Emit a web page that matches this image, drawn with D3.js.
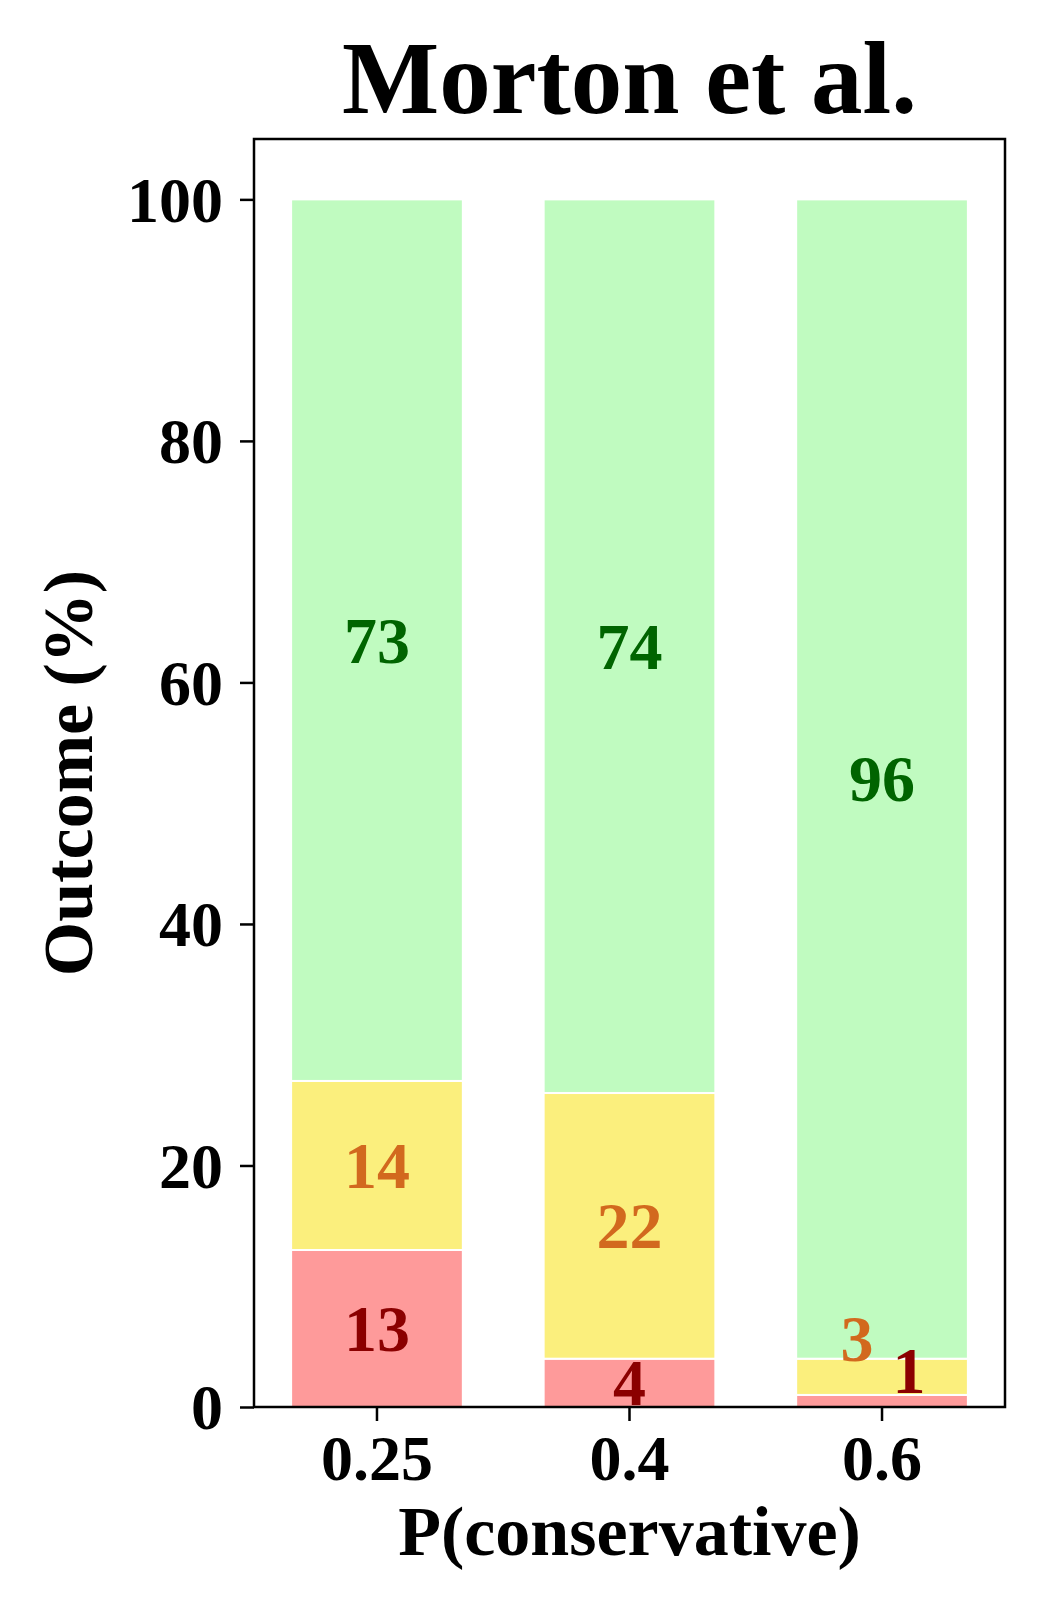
<!DOCTYPE html>
<html>
<head>
<meta charset="utf-8">
<script src="https://cdn.jsdelivr.net/npm/d3@7"></script>
<style>
	body { margin: 0; background: #fff; }
	text { font-family: "Liberation Serif", "Times New Roman", serif; font-weight: bold; }
</style>
</head>
<body>
<svg id="chart" width="1050" height="1620"></svg>
<script>
// data
var categories	= ["0.25", "0.4", "0.6"];
var seriesNames	= ["fail", "partial", "success"];
var failVals	= [13, 4, 1];
var partialVals	= [14, 22, 3];
var successVals	= [73, 74, 96];
var yTicks	= [0, 20, 40, 60, 80, 100];

var fills	= {fail: "#fe9a9a", partial: "#fbef7d", success: "#c0fbc0"},
	inks	= {fail: "#8b0000", partial: "#d2691e", success: "#006400"};

// note: "top" is reserved on window, so the box uses its own names
var svg	= d3.select("#chart"),
	boxL = 254, boxR = 1005, boxT = 139, boxB = 1407;

var rows = categories.map(function(c, i) {
	return {cat: c, fail: failVals[i], partial: partialVals[i], success: successVals[i]};
});
var stacked = d3.stack().keys(seriesNames)(rows);

var x = d3.scaleBand().domain(categories).range([boxL, boxR]).paddingInner(0.32).paddingOuter(0.147);
var y = d3.scaleLinear().domain([0, 105]).range([boxB, boxT]);

// bars
var layer = svg.append("g").selectAll("g").data(stacked).join("g")
	.attr("fill", function(d) { return fills[d.key]; });
layer.selectAll("rect").data(function(d) { return d; }).join("rect")
	.attr("x", function(d) { return x(d.data.cat); })
	.attr("width", x.bandwidth())
	.attr("y", function(d) { return y(d[1]); })
	.attr("height", function(d) { return y(d[0]) - y(d[1]); })
	.attr("stroke", "#fff").attr("stroke-width", 2);

// value labels, tiny segments get nudged aside so they don't collide
var nudge = {fail: [27, 2.5], partial: [-25, 3.2]};
stacked.forEach(function(s) {
	s.forEach(function(d) {
		var v = d[1] - d[0], dx = 0, dv = 0;
		if (v <= 3 && nudge[s.key]) { dx = nudge[s.key][0]; dv = nudge[s.key][1]; }
		svg.append("text")
			.attr("x", x(d.data.cat) + x.bandwidth() / 2 + dx)
			.attr("y", y((d[0] + d[1]) / 2 + dv))
			.attr("dy", "0.34em")
			.attr("text-anchor", "middle")
			.attr("font-size", 66)
			.attr("fill", inks[s.key])
			.text(v);
	});
});

// axes
var yAxis = svg.append("g").attr("transform", "translate(" + boxL + ",0)")
	.call(d3.axisLeft(y).tickValues(yTicks).tickSize(14).tickPadding(17));
var xAxis = svg.append("g").attr("transform", "translate(0," + boxB + ")")
	.call(d3.axisBottom(x).tickSize(14).tickPadding(14));
[yAxis, xAxis].forEach(function(g) {
	g.select(".domain").remove();
	g.selectAll(".tick line").attr("stroke", "#000").attr("stroke-width", 2.5);
	g.selectAll(".tick text").attr("font-size", 64).attr("fill", "#000")
		.style("font-family", "'Liberation Serif', 'Times New Roman', serif").style("font-weight", "bold");
});
yAxis.selectAll(".tick text").attr("dy", "0.34em");

// frame
svg.append("rect").attr("x", boxL).attr("y", boxT).attr("width", boxR - boxL).attr("height", boxB - boxT)
	.attr("fill", "none").attr("stroke", "#000").attr("stroke-width", 2.5);

// titles
svg.append("text").attr("x", (boxL + boxR) / 2).attr("y", 113).attr("text-anchor", "middle")
	.attr("font-size", 103).text("Morton et al.");
svg.append("text").attr("x", (boxL + boxR) / 2).attr("y", 1555).attr("text-anchor", "middle")
	.attr("font-size", 70).text("P(conservative)");
svg.append("text").attr("transform", "translate(92," + (boxT + boxB) / 2 + ") rotate(-90)")
	.attr("text-anchor", "middle").attr("font-size", 70).text("Outcome (%)");
</script>
</body>
</html>
